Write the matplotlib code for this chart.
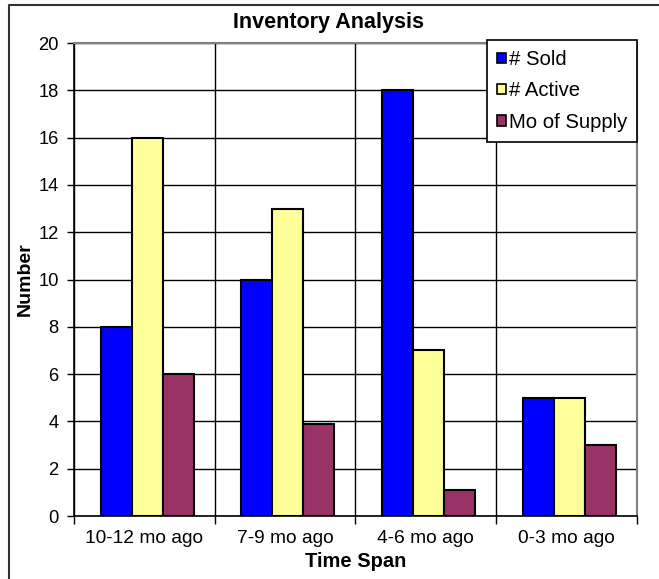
import matplotlib.pyplot as plt
import numpy as np
from matplotlib.lines import Line2D

plt.rcParams['font.family'] = ['Liberation Sans', 'DejaVu Sans']

# data
periods = ['10-12 mo ago', '7-9 mo ago', '4-6 mo ago', '0-3 mo ago']
sold = [8, 10, 18, 5]
active = [16, 13, 7, 5]
supply = [6, 3.9, 1.1, 3]
series_names = ['# Sold', '# Active', 'Mo of Supply']
colors = ['#0000FF', '#FFFF99', '#993366']

fig = plt.figure(figsize=(6.59, 5.79), dpi=100)
ax = fig.add_axes([0.1123, 0.1088, 0.8543, 0.8169])

# outer chart border (only top and left show in the cropped screenshot)
fig.lines.append(Line2D([0.014, 0.014, 0.998], [0.0, 0.991, 0.991],
                        transform=fig.transFigure, color='#333333', linewidth=1.5))

x = np.arange(len(periods))
w = 0.22
for i, (vals, name, c) in enumerate(zip([sold, active, supply], series_names, colors)):
    ax.bar(x + (i - 1) * w + 0.02, vals, width=w, color=c, edgecolor='black',
           linewidth=1.5, label=name, zorder=3)

ax.set_xlim(-0.5, len(periods) - 0.5)
ax.set_ylim(0, 20)
ax.set_yticks(range(0, 21, 2))
ax.set_xticks(x)
ax.set_xticklabels(periods)
ax.set_xticks(np.arange(-0.5, len(periods), 1.0), minor=True)
ax.tick_params(axis='x', which='major', length=0, labelsize=13.8, pad=10)
ax.tick_params(axis='x', which='minor', length=6, width=1, color='black')
ax.tick_params(axis='y', length=5, width=1, labelsize=13.2, color='black', pad=6)

ax.grid(axis='y', color='black', linewidth=1, zorder=0)
ax.grid(axis='x', which='minor', color='black', linewidth=1, zorder=0)
ax.set_axisbelow(True)

for s in ['top', 'right']:
    ax.spines[s].set_color('#808080')
    ax.spines[s].set_linewidth(1.5)
for s in ['left', 'bottom']:
    ax.spines[s].set_color('black')
    ax.spines[s].set_linewidth(1.2)

fig.text(0.498, 0.962, 'Inventory Analysis', fontsize=15.5, fontweight='bold',
         ha='center', va='center')
ax.set_ylabel('Number', fontsize=14, fontweight='bold', labelpad=3)
ax.set_xlabel('Time Span', fontsize=14.5, fontweight='bold', labelpad=4)

leg = ax.legend(loc='upper right', bbox_to_anchor=(1.0, 1.006), fontsize=14.6,
                frameon=True, fancybox=False, framealpha=1, edgecolor='black',
                handlelength=0.4, handleheight=0.4, handletextpad=0.15,
                labelspacing=0.6, borderpad=0.5, borderaxespad=0)
leg.get_frame().set_linewidth(1.2)
for h in leg.legend_handles:
    h.set_linewidth(1.2)

fig.savefig('out.png', dpi=100)
